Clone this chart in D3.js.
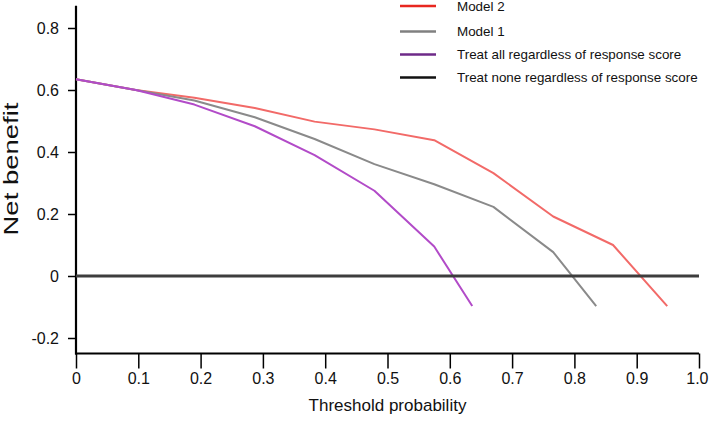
<!DOCTYPE html>
<html>
<head>
<meta charset="utf-8">
<script src="https://cdn.jsdelivr.net/npm/d3@7/dist/d3.min.js"></script>
<style>
  html, body { margin: 0; padding: 0; background: #fff; }
  svg { display: block; font-family: "Liberation Sans", Arial, Helvetica, sans-serif; }
</style>
</head>
<body>
<svg id="chart" width="709" height="424"></svg>
<script>
// ---- data ----
const model2X = [0, 0.096, 0.19, 0.287, 0.383, 0.479, 0.575, 0.67, 0.766, 0.862, 0.949];
const model2Y = [0.635, 0.600, 0.575, 0.542, 0.498, 0.473, 0.438, 0.332, 0.192, 0.100, -0.097];

const model1X = [0, 0.096, 0.19, 0.287, 0.383, 0.479, 0.575, 0.67, 0.766, 0.835];
const model1Y = [0.635, 0.600, 0.566, 0.512, 0.442, 0.361, 0.296, 0.223, 0.077, -0.097];

const treatAllX = [0, 0.096, 0.19, 0.287, 0.383, 0.479, 0.575, 0.636];
const treatAllY = [0.635, 0.600, 0.553, 0.483, 0.390, 0.275, 0.095, -0.097];

const treatNoneX = [0, 1.0];
const treatNoneY = [0, 0];

const xTicks = [0, 0.1, 0.2, 0.3, 0.4, 0.5, 0.6, 0.7, 0.8, 0.9, 1.0];
const xTickLabels = ["0", "0.1", "0.2", "0.3", "0.4", "0.5", "0.6", "0.7", "0.8", "0.9", "1.0"];
const yTicks = [-0.2, 0, 0.2, 0.4, 0.6, 0.8];
const yTickLabels = ["-0.2", "0", "0.2", "0.4", "0.6", "0.8"];

const legendLabels = ["Model 2", "Model 1", "Treat all regardless of response score", "Treat none regardless of response score"];

// ---- chart ----
const W = 709;
const svg = d3.select("#chart");
const x = d3.scaleLinear().domain([0, 1]).range([76, 699]);
const y = d3.scaleLinear().domain([0, 0.8]).range([276, 28]);
const yMin = -0.25, yMax = 0.872;

const series = [
  { xs: model2X, ys: model2Y, color: "#f26a68", width: 2 },
  { xs: model1X, ys: model1Y, color: "#8a8a8a", width: 2 },
  { xs: treatAllX, ys: treatAllY, color: "#b24bc8", width: 2 },
];

const line = d3.line().x(d => x(d[0])).y(d => y(d[1]));

// axes
const yAxis = d3.axisLeft(y).tickValues(yTicks).tickSize(8).tickSizeOuter(0)
  .tickFormat((d, i) => yTickLabels[i]).tickPadding(9);
const gy = svg.append("g").attr("transform", `translate(${x(0)},0)`).call(yAxis);
gy.select(".domain").remove();
gy.selectAll(".tick line").attr("stroke", "#000").attr("stroke-width", 1.5);
gy.selectAll(".tick text").attr("font-size", "16px").attr("fill", "#111")
  .attr("font-family", "Liberation Sans, Arial, sans-serif");

const xAxis = d3.axisBottom(x).tickValues(xTicks).tickSize(15).tickSizeOuter(0)
  .tickFormat((d, i) => xTickLabels[i]).tickPadding(4);
const gx = svg.append("g").attr("transform", `translate(0,${y(yMin)})`).call(xAxis);
gx.select(".domain").remove();
gx.selectAll(".tick line").attr("stroke", "#000").attr("stroke-width", 1.5);
gx.selectAll(".tick text").attr("font-size", "16px").attr("fill", "#111")
  .attr("font-family", "Liberation Sans, Arial, sans-serif");
// keep the last label inside the picture (it sits flush with the right edge)
gx.selectAll(".tick text").filter(d => d === 1.0)
  .attr("text-anchor", "end").attr("x", W - 1 - x(1));

// axis lines
svg.append("line").attr("x1", x(0)).attr("x2", x(0)).attr("y1", y(yMax)).attr("y2", y(yMin) + 1)
  .attr("stroke", "#000").attr("stroke-width", 2.2);
svg.append("line").attr("x1", x(0) - 1).attr("x2", x(1)).attr("y1", y(yMin)).attr("y2", y(yMin))
  .attr("stroke", "#000").attr("stroke-width", 2.2);

// series
series.forEach(s => {
  svg.append("path")
    .datum(s.xs.map((v, i) => [v, s.ys[i]]))
    .attr("d", line)
    .attr("fill", "none")
    .attr("stroke", s.color)
    .attr("stroke-width", s.width)
    .attr("stroke-linejoin", "round");
});

// treat none
svg.append("path")
  .datum(treatNoneX.map((v, i) => [v, treatNoneY[i]]))
  .attr("d", line)
  .attr("fill", "none")
  .attr("stroke", "#3d3d3d")
  .attr("stroke-width", 2.8);

// axis titles
svg.append("text").attr("x", (x(0) + x(1)) / 2).attr("y", 411)
  .attr("text-anchor", "middle").attr("font-size", "17px").attr("fill", "#111")
  .text("Threshold probability");

svg.append("text")
  .attr("transform", `translate(18,169) rotate(-90)`)
  .attr("text-anchor", "middle").attr("font-size", "20px").attr("fill", "#111")
  .attr("textLength", 133).attr("lengthAdjust", "spacingAndGlyphs")
  .text("Net benefit");

// legend
const legendColors = ["#e8271f", "#808080", "#6e2a88", "#111111"];
const legendY = [6, 31.5, 54.5, 77.5];
legendLabels.forEach((lab, i) => {
  svg.append("line").attr("x1", 400).attr("x2", 436)
    .attr("y1", legendY[i]).attr("y2", legendY[i])
    .attr("stroke", legendColors[i]).attr("stroke-width", 2.5);
  svg.append("text").attr("x", 457).attr("y", legendY[i]).attr("dy", "0.35em")
    .attr("font-size", "13.4px").attr("fill", "#111").text(lab);
});
</script>
</body>
</html>
